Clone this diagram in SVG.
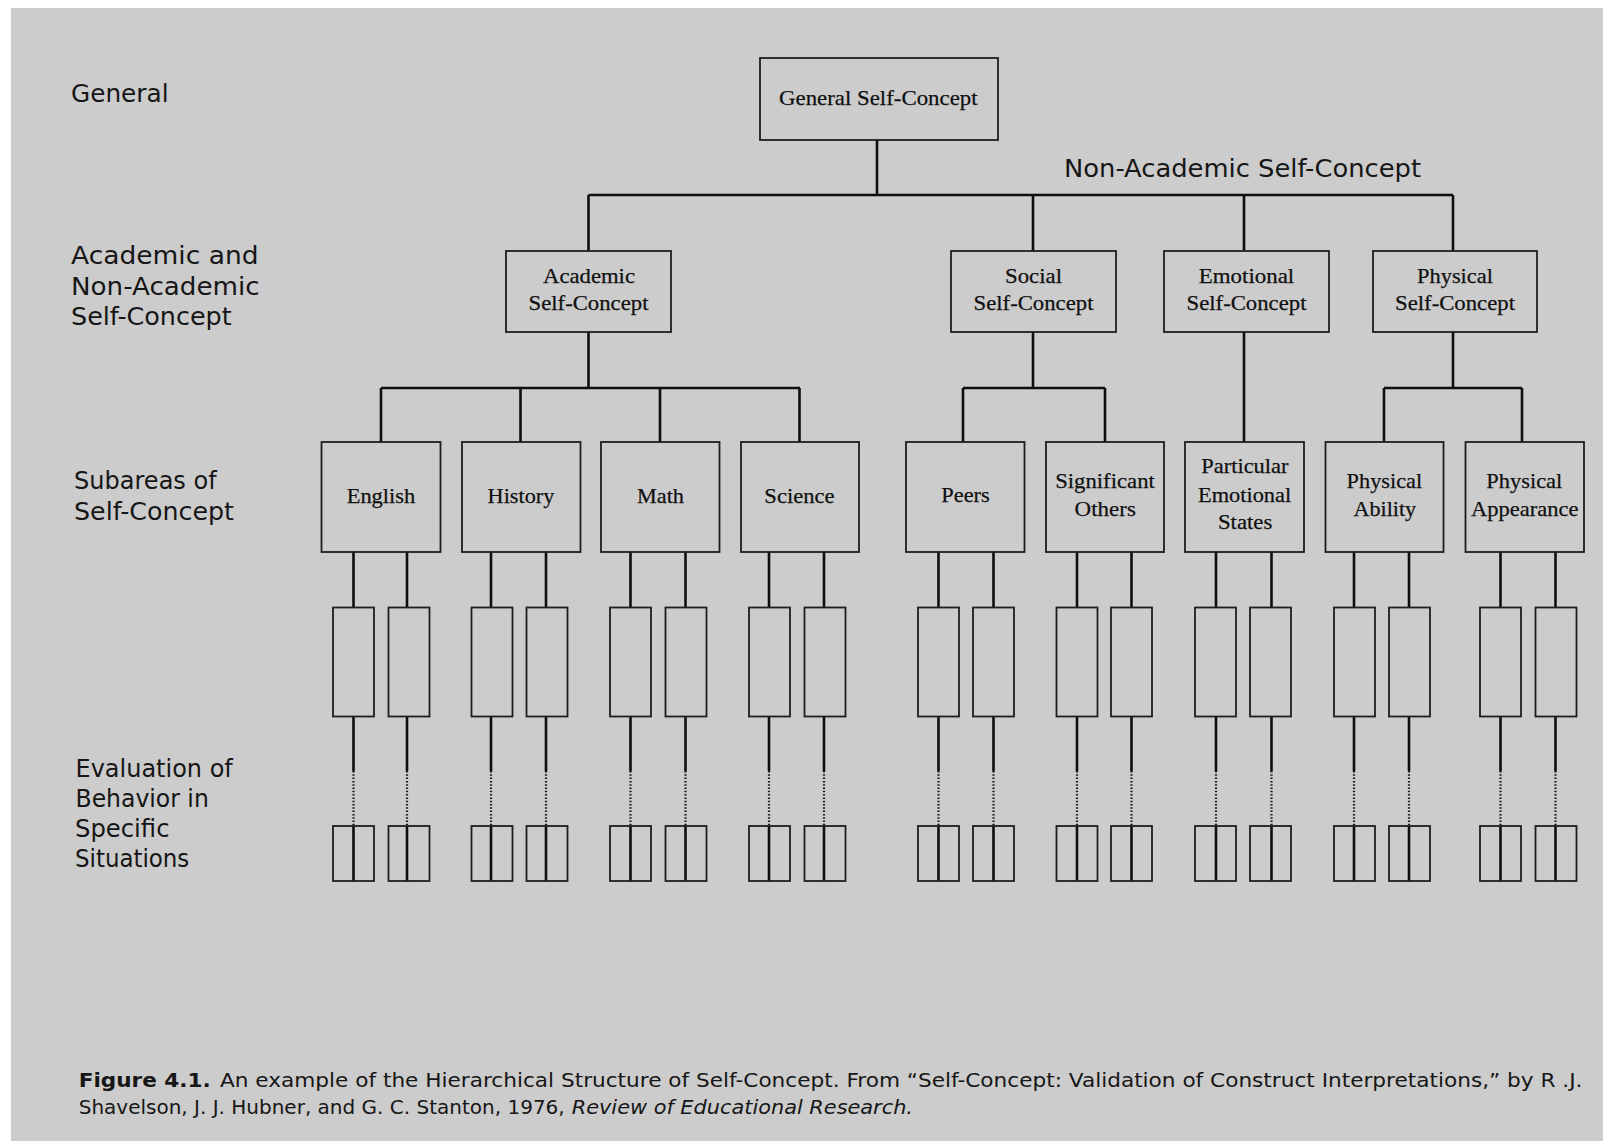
<svg xmlns="http://www.w3.org/2000/svg" width="1603" height="1141" viewBox="0 0 1603 1141">
  <style>
    .box { fill: none; stroke: #1e1e1e; stroke-width: 1.8; }
    .wire { fill: none; stroke: #0e0e0e; stroke-width: 2.6; }
    .dots { fill: none; stroke: #1a1a1a; stroke-width: 2.2; stroke-dasharray: 1.5 1.8; }
    .lbl { font-family: "Liberation Serif", "Times New Roman", serif; font-size: 22px; fill: #101010; text-anchor: middle; stroke: #101010; stroke-width: 0.25; }
    .side { font-family: "DejaVu Sans", "Liberation Sans", sans-serif; font-size: 24px; fill: #161616; }
    .cap { font-family: "DejaVu Sans", "Liberation Sans", sans-serif; font-size: 20px; fill: #161616; }
  </style>

  <!-- page -->
  <rect x="0" y="0" width="1603" height="1141" fill="#ffffff"/>
  <rect x="11" y="8" width="1592" height="1133" fill="#cccccc"/>

  <!-- level captions on the left -->
  <g id="level-labels">
    <text class="side" x="71" y="101.7" textLength="97.6" lengthAdjust="spacingAndGlyphs">General</text>
    <text class="side" x="71" y="264.3" textLength="187.5" lengthAdjust="spacingAndGlyphs">Academic and</text>
    <text class="side" x="71" y="295" textLength="188.7" lengthAdjust="spacingAndGlyphs">Non-Academic</text>
    <text class="side" x="71" y="325" textLength="160.7" lengthAdjust="spacingAndGlyphs">Self-Concept</text>
    <text class="side" x="74" y="489.3" textLength="142.7" lengthAdjust="spacingAndGlyphs">Subareas of</text>
    <text class="side" x="74" y="520" textLength="160" lengthAdjust="spacingAndGlyphs">Self-Concept</text>
    <text class="side" x="75.5" y="777.3" textLength="157.3" lengthAdjust="spacingAndGlyphs">Evaluation of</text>
    <text class="side" x="75.5" y="806.7" textLength="133.3" lengthAdjust="spacingAndGlyphs">Behavior in</text>
    <text class="side" x="75" y="836.7" textLength="94.5" lengthAdjust="spacingAndGlyphs">Specific</text>
    <text class="side" x="75" y="866.7" textLength="114.3" lengthAdjust="spacingAndGlyphs">Situations</text>
  </g>

  <text id="non-academic-label" class="side" x="1064" y="176.7" textLength="357" lengthAdjust="spacingAndGlyphs">Non-Academic Self-Concept</text>

  <!-- connectors -->
  <g id="connectors">
    <path class="wire" d="M877,140 V195 M588.5,195 H1453 M588.5,195 V251 M1033,195 V251 M1244,195 V251 M1453,195 V251"/>
    <path class="wire" d="M588.5,332 V388 M381,388 H800 M381,388 V442 M520.5,388 V442 M660,388 V442 M799.5,388 V442"/>
    <path class="wire" d="M1033,332 V388 M963,388 H1105 M963,388 V442 M1105,388 V442"/>
    <path class="wire" d="M1244,332 V442"/>
    <path class="wire" d="M1453,332 V388 M1384,388 H1522 M1384,388 V442 M1522,388 V442"/>
    <!-- subarea to situation chains: solid, dotted, solid -->
    <path class="wire" d="M353.5,552 V607.5 M353.5,716.5 V771 M353.5,826 V881 M407,552 V607.5 M407,716.5 V771 M407,826 V881 M491,552 V607.5 M491,716.5 V771 M491,826 V881 M546,552 V607.5 M546,716.5 V771 M546,826 V881 M630.5,552 V607.5 M630.5,716.5 V771 M630.5,826 V881 M685.5,552 V607.5 M685.5,716.5 V771 M685.5,826 V881 M769,552 V607.5 M769,716.5 V771 M769,826 V881 M824,552 V607.5 M824,716.5 V771 M824,826 V881"/>
    <path class="wire" d="M938.5,552 V607.5 M938.5,716.5 V771 M938.5,826 V881 M993.5,552 V607.5 M993.5,716.5 V771 M993.5,826 V881 M1077,552 V607.5 M1077,716.5 V771 M1077,826 V881 M1131.5,552 V607.5 M1131.5,716.5 V771 M1131.5,826 V881 M1216,552 V607.5 M1216,716.5 V771 M1216,826 V881 M1271.5,552 V607.5 M1271.5,716.5 V771 M1271.5,826 V881 M1354,552 V607.5 M1354,716.5 V771 M1354,826 V881 M1409,552 V607.5 M1409,716.5 V771 M1409,826 V881 M1500.5,552 V607.5 M1500.5,716.5 V771 M1500.5,826 V881 M1555.5,552 V607.5 M1555.5,716.5 V771 M1555.5,826 V881"/>
    <path class="dots" d="M353.5,771 V826 M407,771 V826 M491,771 V826 M546,771 V826 M630.5,771 V826 M685.5,771 V826 M769,771 V826 M824,771 V826 M938.5,771 V826 M993.5,771 V826 M1077,771 V826 M1131.5,771 V826 M1216,771 V826 M1271.5,771 V826 M1354,771 V826 M1409,771 V826 M1500.5,771 V826 M1555.5,771 V826"/>
  </g>

  <!-- general level -->
  <g id="general-self-concept">
    <rect class="box" x="760" y="58" width="238" height="82"/>
    <text class="lbl" x="878.3" y="105" textLength="198.5" lengthAdjust="spacingAndGlyphs">General Self-Concept</text>
  </g>

  <!-- academic / non-academic level -->
  <g id="academic-self-concept">
    <rect class="box" x="506" y="251" width="165" height="81"/>
    <text class="lbl" x="589" y="282.7" textLength="92" lengthAdjust="spacingAndGlyphs">Academic</text>
    <text class="lbl" x="588.5" y="310" textLength="120" lengthAdjust="spacingAndGlyphs">Self-Concept</text>
  </g>
  <g id="social-self-concept">
    <rect class="box" x="951" y="251" width="165" height="81"/>
    <text class="lbl" x="1033.5" y="282.7" textLength="57" lengthAdjust="spacingAndGlyphs">Social</text>
    <text class="lbl" x="1033.5" y="310" textLength="120" lengthAdjust="spacingAndGlyphs">Self-Concept</text>
  </g>
  <g id="emotional-self-concept">
    <rect class="box" x="1164" y="251" width="165" height="81"/>
    <text class="lbl" x="1246.5" y="282.7" textLength="95.4" lengthAdjust="spacingAndGlyphs">Emotional</text>
    <text class="lbl" x="1246.5" y="310" textLength="120" lengthAdjust="spacingAndGlyphs">Self-Concept</text>
  </g>
  <g id="physical-self-concept">
    <rect class="box" x="1373" y="251" width="164" height="81"/>
    <text class="lbl" x="1455" y="282.7" textLength="76" lengthAdjust="spacingAndGlyphs">Physical</text>
    <text class="lbl" x="1455" y="310" textLength="120" lengthAdjust="spacingAndGlyphs">Self-Concept</text>
  </g>

  <!-- subareas -->
  <g id="english">
    <rect class="box" x="321.5" y="442" width="119" height="110"/>
    <text class="lbl" x="381" y="503" textLength="68.6" lengthAdjust="spacingAndGlyphs">English</text>
  </g>
  <g id="history">
    <rect class="box" x="462" y="442" width="118.5" height="110"/>
    <text class="lbl" x="521" y="503" textLength="66.8" lengthAdjust="spacingAndGlyphs">History</text>
  </g>
  <g id="math">
    <rect class="box" x="601" y="442" width="118.5" height="110"/>
    <text class="lbl" x="660.5" y="503" textLength="47" lengthAdjust="spacingAndGlyphs">Math</text>
  </g>
  <g id="science">
    <rect class="box" x="741" y="442" width="118" height="110"/>
    <text class="lbl" x="799.5" y="503" textLength="70.3" lengthAdjust="spacingAndGlyphs">Science</text>
  </g>
  <g id="peers">
    <rect class="box" x="906" y="442" width="118.5" height="110"/>
    <text class="lbl" x="965.5" y="502" textLength="48.4" lengthAdjust="spacingAndGlyphs">Peers</text>
  </g>
  <g id="significant-others">
    <rect class="box" x="1046" y="442" width="118" height="110"/>
    <text class="lbl" x="1105" y="488.3" textLength="99.6" lengthAdjust="spacingAndGlyphs">Significant</text>
    <text class="lbl" x="1105.2" y="516" textLength="61.3" lengthAdjust="spacingAndGlyphs">Others</text>
  </g>
  <g id="particular-emotional-states">
    <rect class="box" x="1185" y="442" width="119" height="110"/>
    <text class="lbl" x="1244.9" y="473.3" textLength="87.2" lengthAdjust="spacingAndGlyphs">Particular</text>
    <text class="lbl" x="1244.6" y="501.7" textLength="93.1" lengthAdjust="spacingAndGlyphs">Emotional</text>
    <text class="lbl" x="1245.1" y="529.3" textLength="54.4" lengthAdjust="spacingAndGlyphs">States</text>
  </g>
  <g id="physical-ability">
    <rect class="box" x="1325.5" y="442" width="118" height="110"/>
    <text class="lbl" x="1384.4" y="488.3" textLength="75.6" lengthAdjust="spacingAndGlyphs">Physical</text>
    <text class="lbl" x="1384.8" y="516" textLength="62.7" lengthAdjust="spacingAndGlyphs">Ability</text>
  </g>
  <g id="physical-appearance">
    <rect class="box" x="1465.5" y="442" width="118.5" height="110"/>
    <text class="lbl" x="1524.3" y="488.3" textLength="76" lengthAdjust="spacingAndGlyphs">Physical</text>
    <text class="lbl" x="1524.8" y="516" textLength="107.4" lengthAdjust="spacingAndGlyphs">Appearance</text>
  </g>

  <!-- facets under each subarea -->
  <g id="english-facet-1"><rect class="box" x="333" y="607.5" width="41" height="109"/></g>
  <g id="english-facet-2"><rect class="box" x="388.5" y="607.5" width="41" height="109"/></g>
  <g id="history-facet-1"><rect class="box" x="471.5" y="607.5" width="41" height="109"/></g>
  <g id="history-facet-2"><rect class="box" x="526.5" y="607.5" width="41" height="109"/></g>
  <g id="math-facet-1"><rect class="box" x="610" y="607.5" width="41" height="109"/></g>
  <g id="math-facet-2"><rect class="box" x="665.5" y="607.5" width="41" height="109"/></g>
  <g id="science-facet-1"><rect class="box" x="749" y="607.5" width="41" height="109"/></g>
  <g id="science-facet-2"><rect class="box" x="804.5" y="607.5" width="41" height="109"/></g>
  <g id="peers-facet-1"><rect class="box" x="918" y="607.5" width="41" height="109"/></g>
  <g id="peers-facet-2"><rect class="box" x="973" y="607.5" width="41" height="109"/></g>
  <g id="significant-facet-1"><rect class="box" x="1056.5" y="607.5" width="41" height="109"/></g>
  <g id="significant-facet-2"><rect class="box" x="1111" y="607.5" width="41" height="109"/></g>
  <g id="emotional-facet-1"><rect class="box" x="1195" y="607.5" width="41" height="109"/></g>
  <g id="emotional-facet-2"><rect class="box" x="1250" y="607.5" width="41" height="109"/></g>
  <g id="ability-facet-1"><rect class="box" x="1334" y="607.5" width="41" height="109"/></g>
  <g id="ability-facet-2"><rect class="box" x="1389" y="607.5" width="41" height="109"/></g>
  <g id="appearance-facet-1"><rect class="box" x="1480" y="607.5" width="41" height="109"/></g>
  <g id="appearance-facet-2"><rect class="box" x="1535.5" y="607.5" width="41" height="109"/></g>

  <!-- specific situations -->
  <g id="english-situation-1"><rect class="box" x="333" y="826" width="41" height="55"/></g>
  <g id="english-situation-2"><rect class="box" x="388.5" y="826" width="41" height="55"/></g>
  <g id="history-situation-1"><rect class="box" x="471.5" y="826" width="41" height="55"/></g>
  <g id="history-situation-2"><rect class="box" x="526.5" y="826" width="41" height="55"/></g>
  <g id="math-situation-1"><rect class="box" x="610" y="826" width="41" height="55"/></g>
  <g id="math-situation-2"><rect class="box" x="665.5" y="826" width="41" height="55"/></g>
  <g id="science-situation-1"><rect class="box" x="749" y="826" width="41" height="55"/></g>
  <g id="science-situation-2"><rect class="box" x="804.5" y="826" width="41" height="55"/></g>
  <g id="peers-situation-1"><rect class="box" x="918" y="826" width="41" height="55"/></g>
  <g id="peers-situation-2"><rect class="box" x="973" y="826" width="41" height="55"/></g>
  <g id="significant-situation-1"><rect class="box" x="1056.5" y="826" width="41" height="55"/></g>
  <g id="significant-situation-2"><rect class="box" x="1111" y="826" width="41" height="55"/></g>
  <g id="emotional-situation-1"><rect class="box" x="1195" y="826" width="41" height="55"/></g>
  <g id="emotional-situation-2"><rect class="box" x="1250" y="826" width="41" height="55"/></g>
  <g id="ability-situation-1"><rect class="box" x="1334" y="826" width="41" height="55"/></g>
  <g id="ability-situation-2"><rect class="box" x="1389" y="826" width="41" height="55"/></g>
  <g id="appearance-situation-1"><rect class="box" x="1480" y="826" width="41" height="55"/></g>
  <g id="appearance-situation-2"><rect class="box" x="1535.5" y="826" width="41" height="55"/></g>

  <!-- figure caption -->
  <g id="caption">
    <text class="cap" x="78.7" y="1086.7" font-weight="bold" font-size="22px" textLength="132" lengthAdjust="spacingAndGlyphs">Figure 4.1.</text>
    <text class="cap" x="220" y="1086.7" textLength="1362.5" lengthAdjust="spacingAndGlyphs">An example of the Hierarchical Structure of Self-Concept. From “Self-Concept: Validation of Construct Interpretations,” by R .J.</text>
    <text class="cap" x="78.7" y="1113.5" textLength="486" lengthAdjust="spacingAndGlyphs">Shavelson, J. J. Hubner, and G. C. Stanton, 1976,</text>
    <text class="cap" x="571.7" y="1113.5" font-style="italic" textLength="341.3" lengthAdjust="spacingAndGlyphs">Review of Educational Research.</text>
  </g>
</svg>
